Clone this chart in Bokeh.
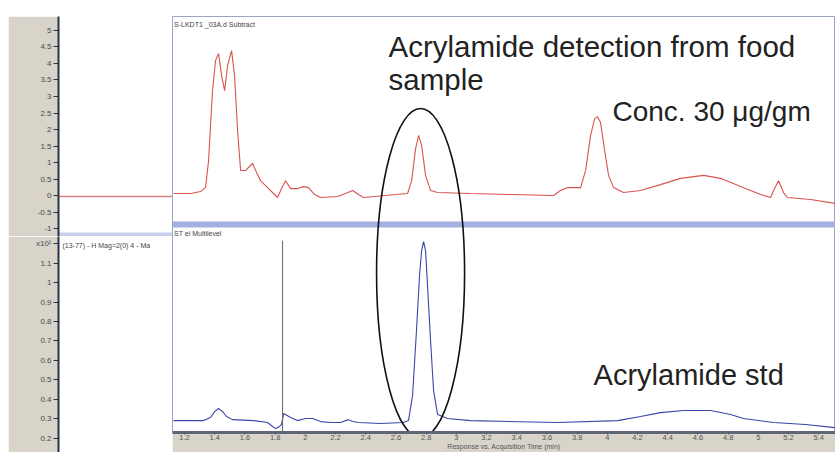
from bokeh.plotting import figure
from bokeh.layouts import row, column, Spacer
from bokeh.models import Range1d, FixedTicker, Label, BoxAnnotation
from bokeh.embed import file_html
from bokeh.resources import INLINE

# ---------------- data ----------------
# food sample chromatogram (upper, red), acquisition time (min) vs response
sample_time = [1.127, 1.240, 1.306, 1.339, 1.359, 1.385, 1.405, 1.425, 1.445, 1.465,
               1.485, 1.511, 1.531, 1.551, 1.571, 1.604, 1.650, 1.677, 1.703, 1.756,
               1.816, 1.842, 1.869, 1.902, 1.948, 1.988, 2.021, 2.061, 2.101, 2.213,
               2.266, 2.313, 2.352, 2.385, 2.531, 2.677, 2.704, 2.730, 2.750, 2.770,
               2.796, 2.829, 2.876, 3.094, 3.359, 3.644, 3.690, 3.737, 3.823, 3.856,
               3.889, 3.916, 3.935, 3.955, 3.982, 4.008, 4.041, 4.107, 4.220, 4.352,
               4.485, 4.637, 4.750, 4.882, 5.015, 5.081, 5.107, 5.134, 5.167, 5.193,
               5.346, 5.511]
sample_resp = [0.06, 0.06, 0.12, 0.24, 1.06, 3.18, 4.09, 4.30, 3.64, 3.18,
               3.94, 4.39, 3.64, 1.97, 0.76, 0.76, 0.97, 0.70, 0.45, 0.21,
               -0.06, 0.21, 0.45, 0.21, 0.21, 0.27, 0.24, 0.03, -0.06, -0.03,
               0.06, 0.15, 0.03, -0.06, 0.00, 0.06, 0.45, 1.42, 1.82, 1.52,
               0.61, 0.15, 0.09, 0.06, 0.03, 0.00, 0.15, 0.24, 0.24, 0.76,
               1.82, 2.33, 2.39, 2.21, 1.36, 0.61, 0.24, 0.09, 0.15, 0.33,
               0.52, 0.61, 0.52, 0.27, 0.03, -0.06, 0.21, 0.45, 0.09, -0.06,
               -0.12, -0.24]

# acrylamide standard chromatogram (lower, blue), response x10^1
std_time = [1.127, 1.326, 1.372, 1.399, 1.425, 1.452, 1.478, 1.518, 1.657, 1.750,
            1.783, 1.803, 1.829, 1.842, 1.856, 1.902, 1.948, 2.001, 2.048,
            2.101, 2.167, 2.233, 2.286, 2.313, 2.352, 2.498, 2.650, 2.683, 2.710,
            2.736, 2.756, 2.770, 2.783, 2.796, 2.809, 2.829, 2.849, 2.876, 2.942,
            3.094, 3.670, 4.068, 4.220, 4.352, 4.505, 4.684, 4.816, 4.902, 5.101,
            5.313, 5.511]
std_resp = [0.292, 0.292, 0.308, 0.338, 0.354, 0.338, 0.313, 0.297, 0.292, 0.282,
            0.262, 0.251, 0.262, 0.272, 0.328, 0.308, 0.292, 0.303, 0.303,
            0.287, 0.282, 0.282, 0.297, 0.287, 0.282, 0.277, 0.282, 0.292, 0.421,
            0.754, 1.036, 1.164, 1.210, 1.164, 0.985, 0.703, 0.446, 0.323, 0.303,
            0.292, 0.282, 0.292, 0.313, 0.333, 0.344, 0.344, 0.323, 0.303, 0.282,
            0.272, 0.256]

# vertical spike / marker in the standard trace
marker_time = [1.849]
marker_top = [1.215]

# baseline of the wider chromatogram visible at the left
left_pos = [0.0, 1.0]
left_resp = [-0.03, -0.03]

x_ticks = [1.2, 1.4, 1.6, 1.8, 2.0, 2.2, 2.4, 2.6, 2.8, 3.0, 3.2, 3.4, 3.6, 3.8,
           4.0, 4.2, 4.4, 4.6, 4.8, 5.0, 5.2, 5.4]
x_tick_labels = ["1.2", "1.4", "1.6", "1.8", "2", "2.2", "2.4", "2.6", "2.8", "3", "3.2",
                 "3.4", "3.6", "3.8", "4", "4.2", "4.4", "4.6", "4.8", "5", "5.2", "5.4"]
upper_ticks = [-1.0, -0.5, 0.0, 0.5, 1.0, 1.5, 2.0, 2.5, 3.0, 3.5, 4.0, 4.5, 5.0]
upper_tick_labels = ["-1", "-0.5", "0", "0.5", "1", "1.5", "2", "2.5", "3", "3.5", "4", "4.5", "5"]
lower_ticks = [0.2, 0.3, 0.4, 0.5, 0.6, 0.7, 0.8, 0.9, 1.0, 1.1, 1.2]
lower_tick_labels = ["0.2", "0.3", "0.4", "0.5", "0.6", "0.7", "0.8", "0.9", "1", "1.1", "x10¹"]

# acrylamide retention window (ellipse annotation)
acryl_rt = 2.763
acryl_win = 0.583

# ---------------- styling ----------------
FONT = "Liberation Sans"
GRAY = "#d8d4ca"
RED = "#d9534f"
BLUE = "#3a46a8"

def style_left_axis(p, ticks, labels):
    ax = p.yaxis[0]
    ax.ticker = FixedTicker(ticks=ticks)
    ax.major_label_overrides = {t: l for t, l in zip(ticks, labels)}
    ax.axis_line_color = "#27314a"
    ax.axis_line_width = 2
    ax.major_tick_line_color = "#333333"
    ax.major_tick_out = 5
    ax.major_tick_in = 0
    ax.minor_tick_line_color = None
    ax.major_label_text_font = FONT
    ax.major_label_text_font_size = "8px"
    ax.major_label_text_color = "#4a4a4a"
    ax.major_label_standoff = 2

# upper-left strip
ul = figure(width=164, height=220, output_backend="svg", toolbar_location=None,
            x_range=Range1d(0, 1), y_range=Range1d(-1.242, 5.424),
            x_axis_location=None, y_axis_location="left",
            min_border_left=50, min_border_right=0, min_border_top=0, min_border_bottom=0)
ul.border_fill_color = GRAY
ul.background_fill_color = "white"
ul.outline_line_color = None
ul.grid.visible = False
style_left_axis(ul, upper_ticks, upper_tick_labels)
ul.add_layout(BoxAnnotation(top=-1.12, bottom=-1.242, fill_color="#c8d2ee", fill_alpha=1.0,
                            line_color=None, level="underlay"))
ul.line(left_pos, left_resp, line_color="#d98080", line_width=1.5)

# lower-left strip
ll = figure(width=164, height=216, output_backend="svg", toolbar_location=None,
            x_range=Range1d(0, 1), y_range=Range1d(0.128, 1.236),
            x_axis_location=None, y_axis_location="left",
            min_border_left=50, min_border_right=0, min_border_top=0, min_border_bottom=0)
ll.border_fill_color = GRAY
ll.background_fill_color = "white"
ll.outline_line_color = None
ll.grid.visible = False
style_left_axis(ll, lower_ticks, lower_tick_labels)
ll.add_layout(Label(x=0.035, y=1.19, text="(13-77) - H Mag=2(0) 4 - Ma", text_font=FONT,
                    text_font_size="7px", text_color="#444444", text_baseline="middle"))

# main chromatogram panel
pr = figure(width=663, height=436, output_backend="svg", toolbar_location=None,
            x_range=Range1d(1.12, 5.511), y_range=Range1d(-7.18, 5.424),
            x_axis_location="below", y_axis_location=None,
            min_border_left=0, min_border_right=0, min_border_top=0, min_border_bottom=20)
std_range = Range1d(0.231, 2.364)
pr.extra_y_ranges = {"std": std_range}
pr.border_fill_color = GRAY
pr.background_fill_color = "white"
pr.outline_line_color = "#9aa4c4"
pr.grid.visible = False
xa = pr.xaxis[0]
xa.ticker = FixedTicker(ticks=x_ticks)
xa.major_label_overrides = {t: l for t, l in zip(x_ticks, x_tick_labels)}
xa.axis_line_color = "#5f6675"
xa.axis_line_width = 3
xa.major_tick_line_color = "#555555"
xa.major_tick_out = 2
xa.major_tick_in = 0
xa.minor_tick_line_color = None
xa.major_label_text_font = FONT
xa.major_label_text_font_size = "7.5px"
xa.major_label_text_color = "#555555"
xa.major_label_standoff = 0
xa.axis_label = "Response vs. Acquisition Time (min)"
xa.axis_label_text_font = FONT
xa.axis_label_text_font_size = "7px"
xa.axis_label_text_font_style = "normal"
xa.axis_label_text_color = "#555555"
xa.axis_label_standoff = 0
xa.axis_label_text_align = "right"

pr.add_layout(BoxAnnotation(top=-0.79, bottom=-0.97, fill_color="#a4b0e0", fill_alpha=1.0,
                            line_color=None, level="underlay"))

pr.line(sample_time, sample_resp, line_color=RED, line_width=1.1)
pr.line(std_time, std_resp, line_color=BLUE, line_width=1.1, y_range_name="std")
pr.segment(x0=marker_time, y0=[std_range.start] * len(marker_time), x1=marker_time, y1=marker_top,
           line_color="#666666", line_width=1, y_range_name="std")

pr.ellipse(x=[acryl_rt], y=[-2.35], width=[acryl_win], height=[9.97],
           fill_color=None, line_color="#111111", line_width=1.6)

pr.add_layout(Label(x=1.13, y=5.18, text="S-LKDT1 _03A.d  Subtract", text_font=FONT,
                    text_font_size="7px", text_color="#444444", text_baseline="middle"))
pr.add_layout(Label(x=1.13, y=-1.15, text="ST ei  Multilevel", text_font=FONT,
                    text_font_size="7px", text_color="#444444", text_baseline="middle"))

pr.add_layout(Label(x=2.551, y=4.515, text="Acrylamide detection from food", text_font=FONT,
                    text_font_size="29.5px", text_color="#222222", text_baseline="alphabetic"))
pr.add_layout(Label(x=2.551, y=3.515, text="sample", text_font=FONT,
                    text_font_size="29.5px", text_color="#222222", text_baseline="alphabetic"))
pr.add_layout(Label(x=4.034, y=2.545, text="Conc. 30 μg/gm", text_font=FONT,
                    text_font_size="28px", text_color="#222222", text_baseline="alphabetic"))
pr.add_layout(Label(x=3.909, y=-5.424, text="Acrylamide std", text_font=FONT,
                    text_font_size="29px", text_color="#222222", text_baseline="alphabetic"))

layout = column(Spacer(width=835, height=16),
                row(Spacer(width=8, height=436), column(ul, ll), pr))

open("out.html", "w").write(file_html(layout, INLINE))
